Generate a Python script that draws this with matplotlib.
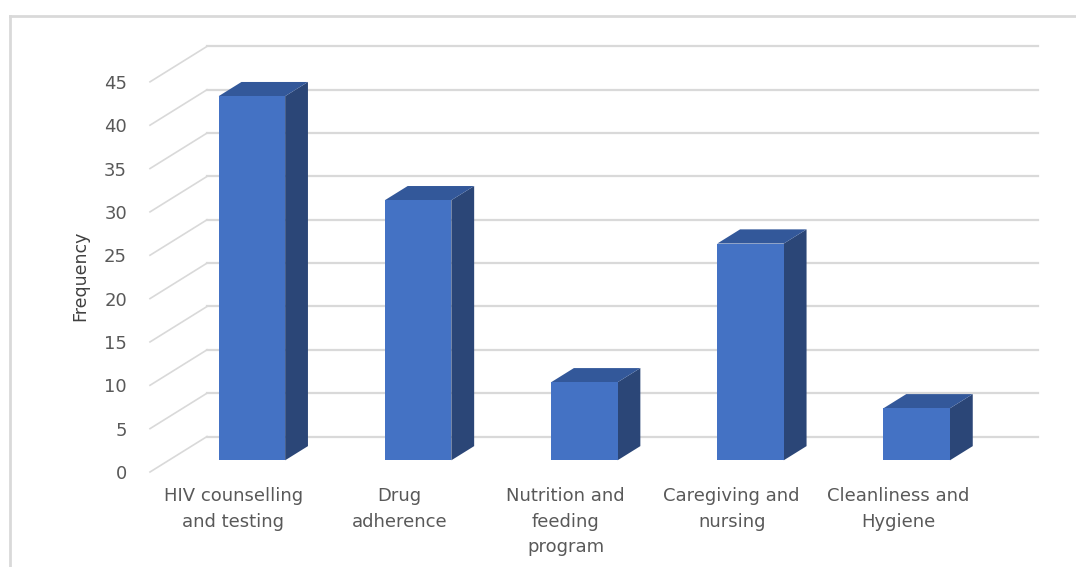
import matplotlib
matplotlib.use('Agg')
import matplotlib.pyplot as plt
from matplotlib.patches import Polygon, Rectangle
from matplotlib.lines import Line2D

categories = ['HIV counselling\nand testing', 'Drug\nadherence',
              'Nutrition and\nfeeding\nprogram', 'Caregiving and\nnursing',
              'Cleanliness and\nHygiene']
frequency = [42, 30, 9, 25, 6]
yticks = [0, 5, 10, 15, 20, 25, 30, 35, 40, 45]

# oblique depth: full depth shift in data units (x in categories, y in values)
DX, DY = 0.343, 4.09
D0, D1 = 0.33, 0.73        # bar front / back depth fractions
BAR_W = 0.4

FRONT = '#4472C4'
SIDE = '#2B4677'
TOP = '#33589A'
GRID = '#D9D9D9'
TEXT = '#595959'

plt.rcParams['font.family'] = ['DejaVu Sans']

fig = plt.figure(figsize=(10.76, 5.67), dpi=100)
ax = fig.add_axes([150 / 1076, (567 - 472) / 567, 888 / 1076, 49.6 * 8.67 / 567])
n = len(categories)
ax.set_xlim(-0.5, -0.5 + 888 / 166.2)
ax.set_ylim(0, 49.6)

# back wall gridlines and side wall diagonals
for v in yticks:
    ax.add_line(Line2D([-0.5 + DX, n - 0.5 + DX], [v + DY, v + DY],
                       color=GRID, lw=1.6, zorder=1, clip_on=False))
    ax.add_line(Line2D([-0.5, -0.5 + DX], [v, v + DY],
                       color=GRID, lw=1.2, zorder=1, clip_on=False))

# 3D-looking bars
ddx, ddy = (D1 - D0) * DX, (D1 - D0) * DY
for i, v in enumerate(frequency):
    x0 = i - BAR_W / 2 + D0 * DX
    b = D0 * DY
    x1 = x0 + BAR_W
    side = [(x1, b), (x1 + ddx, b + ddy), (x1 + ddx, b + ddy + v), (x1, b + v)]
    top = [(x0, b + v), (x1, b + v), (x1 + ddx, b + v + ddy), (x0 + ddx, b + v + ddy)]
    ax.add_patch(Polygon(side, closed=True, fc=SIDE, ec='none', zorder=3))
    ax.add_patch(Polygon(top, closed=True, fc=TOP, ec='none', zorder=3))
    ax.add_patch(Rectangle((x0, b), BAR_W, v, fc=FRONT, ec='none', zorder=4))

ax.set_xticks(range(n))
ax.set_xticklabels(categories, fontsize=13, color=TEXT, linespacing=1.52, va='top')
ax.set_yticks(yticks)
ax.set_yticklabels([str(t) for t in yticks], fontsize=13, color=TEXT)
ax.tick_params(axis='x', length=0, pad=11)
ax.tick_params(axis='y', length=0, pad=16.5)
for s in ax.spines.values():
    s.set_visible(False)

fig.text(80 / 1076, 1 - 276 / 567, 'Frequency', rotation=90, fontsize=12.5,
         color='#404040', ha='center', va='center')

# chart area border (top and left edges)
fig.add_artist(Line2D([10 / 1076, 1.0], [1 - 16 / 567, 1 - 16 / 567],
                      transform=fig.transFigure, color=GRID, lw=2))
fig.add_artist(Line2D([10 / 1076, 10 / 1076], [0, 1 - 16 / 567],
                      transform=fig.transFigure, color=GRID, lw=2))

fig.savefig('out.png', dpi=100)
